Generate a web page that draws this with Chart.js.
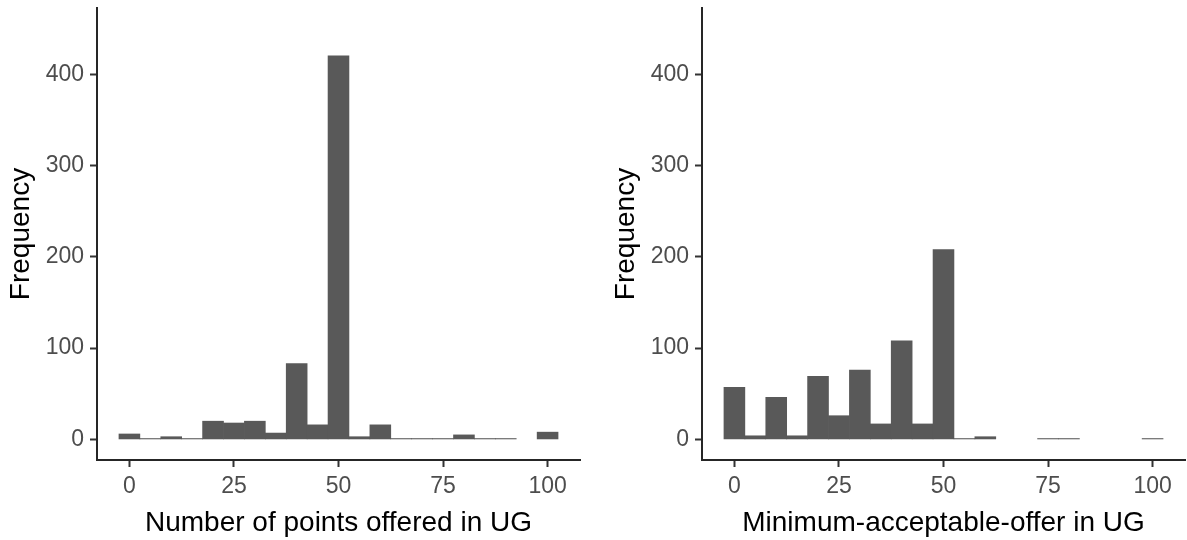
<!DOCTYPE html>
<html>
<head>
<meta charset="utf-8">
<script src="https://cdn.jsdelivr.net/npm/chart.js@4/dist/chart.umd.min.js"></script>
<style>
  html, body { margin: 0; padding: 0; background: #ffffff; }
  body { width: 1187px; height: 540px; position: relative; overflow: hidden; }
  canvas { position: absolute; top: 0; }
  #offeredChart { left: 0; }
  #maoChart { left: 605px; }
</style>
</head>
<body>
<canvas id="offeredChart" width="582" height="540"></canvas>
<canvas id="maoChart" width="582" height="540"></canvas>
<script>
// Histogram bins (bin centres, width 5)
const binCentres = [0, 5, 10, 15, 20, 25, 30, 35, 40, 45, 50, 55, 60, 65, 70, 75, 80, 85, 90, 95, 100];

// Counts per bin: points offered in the ultimatum game
const offeredCounts = [6, 1, 3, 1, 20, 18, 20, 7, 83, 16, 420, 3, 16, 1, 1, 1, 5, 1, 1, 0, 8];

// Counts per bin: minimum acceptable offer in the ultimatum game
const maoCounts = [57, 4, 46, 4, 69, 26, 76, 17, 108, 17, 208, 1, 3, 0, 0, 1, 1, 0, 0, 0, 1];

// Axis ticks
const xTicks = [0, 25, 50, 75, 100];
const yTicks = [0, 100, 200, 300, 400];

const xTitleLeft = 'Number of points offered in UG';
const xTitleRight = 'Minimum-acceptable-offer in UG';
const yTitle = 'Frequency';

const FONT = "'Liberation Sans', Arial, Helvetica, sans-serif";
const BAR_COLOUR = '#595959';
const AXIS_COLOUR = '#262626';
const TICK_TEXT = '#4D4D4D';

function histogram(canvasId, counts, xTitle) {
  const ctx = document.getElementById(canvasId);
  return new Chart(ctx, {
    type: 'bar',
    data: {
      datasets: [{
        // empty bins are left undrawn
        data: binCentres.map((b, i) => ({ x: b, y: counts[i] === 0 ? null : counts[i] })),
        backgroundColor: BAR_COLOUR,
        borderWidth: 0,
        barPercentage: 1,
        categoryPercentage: 1
      }]
    },
    options: {
      responsive: false,
      animation: false,
      layout: { padding: { top: 8, right: 2, left: 0, bottom: 0 } },
      plugins: {
        legend: { display: false },
        tooltip: { enabled: false }
      },
      scales: {
        x: {
          type: 'linear',
          offset: false,
          min: -7.75,
          max: 107.75,
          afterBuildTicks: s => { s.ticks = xTicks.map(v => ({ value: v })); },
          afterFit: s => { s.height = 80; s.paddingLeft = 0; s.paddingRight = 0; },
          border: { display: true, color: AXIS_COLOUR, width: 2 },
          grid: { display: true, offset: false, drawOnChartArea: false, drawTicks: true, tickLength: 7, tickWidth: 2, tickColor: '#333333' },
          ticks: { color: TICK_TEXT, font: { family: FONT, size: 23 }, padding: 6, maxRotation: 0, autoSkip: false },
          title: { display: true, text: xTitle, color: '#000000', font: { family: FONT, size: 28 }, padding: 0 }
        },
        y: {
          type: 'linear',
          min: -22.5,
          max: 472.5,
          afterBuildTicks: s => { s.ticks = yTicks.map(v => ({ value: v })); },
          afterFit: s => { s.width = 97; s.paddingTop = 0; s.paddingBottom = 0; },
          border: { display: true, color: AXIS_COLOUR, width: 2 },
          grid: { display: true, offset: false, drawOnChartArea: false, drawTicks: true, tickLength: 7, tickWidth: 2, tickColor: '#333333' },
          ticks: { color: TICK_TEXT, font: { family: FONT, size: 23 }, padding: 6, autoSkip: false },
          title: { display: true, text: yTitle, color: '#000000', font: { family: FONT, size: 28 }, padding: 4 }
        }
      }
    }
  });
}

histogram('offeredChart', offeredCounts, xTitleLeft);
histogram('maoChart', maoCounts, xTitleRight);
</script>
</body>
</html>
